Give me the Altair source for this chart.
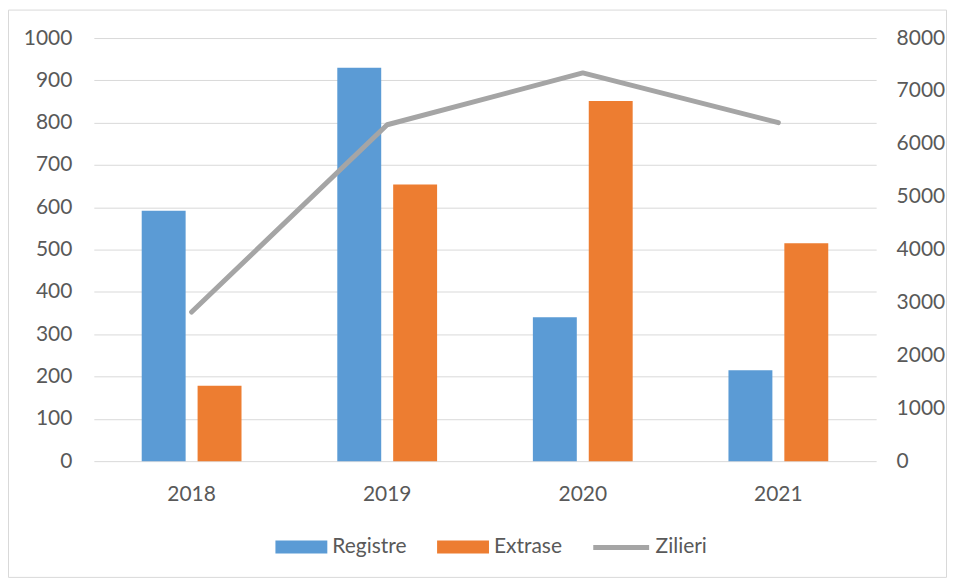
import altair as alt
import pandas as pd

years = ["2018", "2019", "2020", "2021"]
registre = [592, 930, 340, 215]
extrase = [178, 654, 851, 515]
zilieri = [2820, 6360, 7340, 6400]
bar_series = ["Registre", "Extrase"]
line_series = "Zilieri"
left_ticks = list(range(0, 1001, 100))
right_ticks = list(range(0, 8001, 1000))

bars_df = pd.DataFrame({
    "year": years * 2,
    "series": [bar_series[0]] * len(years) + [bar_series[1]] * len(years),
    "value": registre + extrase,
})
line_df = pd.DataFrame({"year": years, "series": [line_series] * len(years), "value": zilieri})
border_df = pd.DataFrame({"k": [0]})

FONT = "Lato"
TXT = "#595959"
GRID = "#D9D9D9"
FS = 21

x_enc = alt.X(
    "year:N", sort=years,
    scale=alt.Scale(paddingInner=0, paddingOuter=0),
    axis=alt.Axis(title=None, labelAngle=0, ticks=False, domain=False, grid=False,
                  labelPadding=22, labelFontSize=FS, labelColor=TXT, labelFont=FONT),
)

border = alt.Chart(border_df).mark_rect(fill="transparent", stroke=GRID, strokeWidth=1).encode(
    x=alt.value(-85.5), x2=alt.value(854.5), y=alt.value(-28), y2=alt.value(540.5)
)

bars = alt.Chart(bars_df).mark_bar().encode(
    x=x_enc,
    xOffset=alt.XOffset("series:N", sort=bar_series,
                        scale=alt.Scale(paddingInner=0.214, paddingOuter=0.857)),
    y=alt.Y("value:Q", scale=alt.Scale(domain=[0, 1000], nice=False),
            axis=alt.Axis(values=left_ticks, format="d", title=None, ticks=False, domain=False,
                          grid=True, gridColor=GRID, gridWidth=1, labelPadding=22,
                          labelFontSize=FS, labelColor=TXT, labelFont=FONT)),
    color=alt.Color("series:N", sort=bar_series,
                    scale=alt.Scale(domain=bar_series, range=["#5B9BD5", "#ED7D31"]),
                    legend=alt.Legend(title=None, orient="none", direction="horizontal",
                                      legendX=182, legendY=484, padding=0,
                                      symbolType="M-1,-0.25H1V0.25H-1Z", symbolSize=2704,
                                      symbolStrokeWidth=0, labelOffset=5, columnPadding=30,
                                      labelFontSize=FS, labelColor=TXT, labelFont=FONT)),
)

line = alt.Chart(line_df).mark_line(strokeWidth=5, strokeCap="round", strokeJoin="round").encode(
    x=alt.X("year:N", sort=years),
    y=alt.Y("value:Q", scale=alt.Scale(domain=[0, 8000], nice=False),
            axis=alt.Axis(orient="right", values=right_ticks, format="d", title=None, ticks=False,
                          domain=False, grid=False, labelPadding=20, labelFontSize=FS,
                          labelColor=TXT, labelFont=FONT)),
    stroke=alt.Stroke("series:N", scale=alt.Scale(domain=[line_series], range=["#A5A5A5"]),
                      legend=alt.Legend(title=None, orient="none", direction="horizontal",
                                        legendX=498, legendY=480, padding=0,
                                        symbolType="stroke", symbolSize=3136,
                                        symbolStrokeWidth=5, labelOffset=4,
                                        labelFontSize=FS, labelColor=TXT, labelFont=FONT)),
)

chart = alt.layer(border, bars, line).resolve_scale(
    y="independent", color="independent"
).properties(
    width=784, height=424,
    autosize=alt.AutoSizeParams(type="none"),
    padding={"left": 86, "top": 29.5, "right": 72, "bottom": 120},
).configure_view(stroke=None)

chart.save("out.html", embed_options={"renderer": "svg", "actions": False})
